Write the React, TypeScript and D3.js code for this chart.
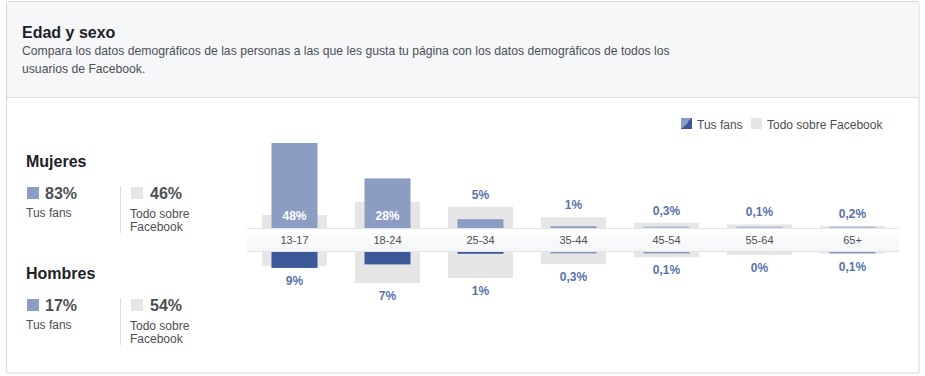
import React from "react";
import * as d3 from "d3";

const categories = ["13-17", "18-24", "25-34", "35-44", "45-54", "55-64", "65+"];
const femaleFans = [48, 28, 5, 1, 0.3, 0.1, 0.2];
const maleFans = [9, 7, 1, 0.3, 0.1, 0, 0.1];
const femaleFacebook = [7.3, 14.7, 12, 6, 3, 2, 1.2];
const maleFacebook = [8, 17.5, 14.7, 6.8, 3, 1.7, 0.8];

const summary = [
  { label: "Mujeres", fans: "83%", facebook: "46%" },
  { label: "Hombres", fans: "17%", facebook: "54%" },
];

const W = 925;
const H = 376;
const FONT = "Helvetica, Arial, 'Liberation Sans', sans-serif";
const FEMALE = "#8b9dc3";
const MALE = "#3b5998";
const GRAY = "#e6e6e6";
const LABEL = "#5873a8";
const TEXT = "#4b4f56";
const DARK = "#1d2129";

const fmt = (v: number) => String(v).replace(".", ",") + "%";

export default function App() {
  const bandTop = 228;
  const bandBottom = 252;
  const x = d3.scaleBand<string>().domain(categories).range([248, 899]);
  const y = d3.scaleLinear().domain([0, 48]).range([0, 85]);
  const fanW = 46;
  const fbW = 65;
  const h = (v: number) => (v > 0 ? Math.max(y(v), 1.5) : 0);
  const op = (v: number) => (v < 1 ? 0.55 : 1);

  return (
    <svg width={W} height={H} style={{ position: "absolute", left: 0, top: 0, fontFamily: FONT }}>
      <defs>
        <linearGradient id="band" x1="0" y1="0" x2="0" y2="1">
          <stop offset="0" stopColor="#ffffff" />
          <stop offset="1" stopColor="#f4f5f7" />
        </linearGradient>
        <linearGradient id="leg" x1="0" y1="0" x2="1" y2="1">
          <stop offset="0.5" stopColor={FEMALE} />
          <stop offset="0.5" stopColor={MALE} />
        </linearGradient>
      </defs>
      {/* card */}
      <rect x={6.5} y={1.5} width={912.5} height={371.5} fill="#fff" stroke="#d3d6db" rx={2} />
      <rect x={7} y={2} width={911.5} height={95} fill="#f6f7f9" />
      <line x1={7} x2={918.5} y1={97.5} y2={97.5} stroke="#dddfe2" />
      <text x={22} y={38} fontSize={16} fontWeight={600} fill={DARK}>Edad y sexo</text>
      <text x={22} y={55} fontSize={12.2} fill={TEXT}>
        Compara los datos demográficos de las personas a las que les gusta tu página con los datos demográficos de todos los
      </text>
      <text x={22} y={73} fontSize={12.2} fill={TEXT}>usuarios de Facebook.</text>

      {/* legend */}
      <rect x={681} y={118} width={11} height={11} fill="url(#leg)" />
      <text x={697} y={129} fontSize={12} fill={TEXT}>Tus fans</text>
      <rect x={751} y={118} width={11} height={11} fill={GRAY} />
      <text x={767} y={129} fontSize={12} fill={TEXT}>Todo sobre Facebook</text>

      {/* left summary */}
      {summary.map((s, i) => {
        const o = i * 112;
        return (
          <g key={s.label}>
            <text x={26} y={167 + o} fontSize={16} fontWeight={600} fill={DARK}>{s.label}</text>
            <rect x={27} y={187 + o} width={12} height={12} fill={FEMALE} />
            <text x={45} y={199 + o} fontSize={16} fontWeight={700} fill={TEXT}>{s.fans}</text>
            <text x={26} y={217 + o} fontSize={12} fill={TEXT}>Tus fans</text>
            <line x1={120.5} x2={120.5} y1={186 + o} y2={233 + o} stroke="#dddfe2" />
            <rect x={131} y={187 + o} width={12} height={12} fill={GRAY} />
            <text x={150} y={199 + o} fontSize={16} fontWeight={700} fill={TEXT}>{s.facebook}</text>
            <text x={130} y={218 + o} fontSize={12} fill={TEXT}>Todo sobre</text>
            <text x={130} y={231 + o} fontSize={12} fill={TEXT}>Facebook</text>
          </g>
        );
      })}

      {/* bars */}
      {categories.map((c, i) => {
        const cx = (x(c) as number) + x.bandwidth() / 2;
        const ff = h(femaleFans[i]);
        const fb = h(femaleFacebook[i]);
        const mf = h(maleFans[i]);
        const mb = h(maleFacebook[i]);
        const inside = ff > 40;
        const topF = bandTop - Math.max(ff, fb);
        const botM = bandBottom + Math.max(mf, mb);
        return (
          <g key={c}>
            <rect x={cx - fbW / 2} y={bandTop - fb} width={fbW} height={fb} fill={GRAY} />
            <rect x={cx - fanW / 2} y={bandTop - ff} width={fanW} height={ff} fill={FEMALE} fillOpacity={op(femaleFans[i])} />
            <rect x={cx - fbW / 2} y={bandBottom} width={fbW} height={mb} fill={GRAY} />
            <rect x={cx - fanW / 2} y={bandBottom} width={fanW} height={mf} fill={MALE} fillOpacity={op(maleFans[i])} />
            {inside ? (
              <text x={cx} y={bandTop - 8} textAnchor="middle" fontSize={12} fontWeight={700} fill="#fff">
                {fmt(femaleFans[i])}
              </text>
            ) : (
              <text x={cx} y={topF - 8} textAnchor="middle" fontSize={12} fontWeight={700} fill={LABEL}>
                {fmt(femaleFans[i])}
              </text>
            )}
            <text x={cx} y={botM + 17} textAnchor="middle" fontSize={12} fontWeight={700} fill={LABEL}>
              {fmt(maleFans[i])}
            </text>
          </g>
        );
      })}

      {/* axis band */}
      <rect x={247} y={bandTop} width={652} height={bandBottom - bandTop} fill="url(#band)" />
      <line x1={247} x2={899} y1={bandTop + 0.5} y2={bandTop + 0.5} stroke="#e3e5e8" />
      <line x1={247} x2={899} y1={bandBottom - 0.5} y2={bandBottom - 0.5} stroke="#e3e5e8" />
      {categories.map((c) => (
        <text key={c} x={(x(c) as number) + x.bandwidth() / 2} y={244} textAnchor="middle" fontSize={11} fill={TEXT}>
          {c}
        </text>
      ))}
    </svg>
  );
}
